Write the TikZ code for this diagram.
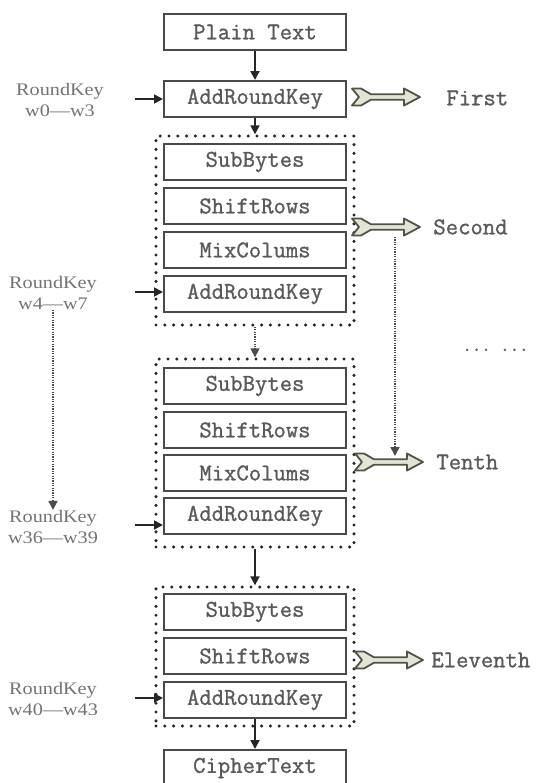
\documentclass[tikz,border=0pt]{standalone}
\usepackage{fontspec}
\setmainfont{Liberation Serif}
\newfontfamily\boxfont[FakeBold=1.2]{Latin Modern Mono}
\newfontfamily\keyfont[FakeStretch=1.15]{Liberation Serif}
\usetikzlibrary{arrows.meta}
\definecolor{txt}{HTML}{5A5A5A}
\definecolor{edge}{HTML}{4A4A4A}
\definecolor{chevfill}{HTML}{E2E5D3}
\definecolor{chevedge}{HTML}{4F5444}
\begin{document}
\begin{tikzpicture}[x=0.5pt,y=-0.5pt,
 stage/.style={draw=edge,line width=1pt,minimum width=91pt,minimum height=18pt,inner sep=0pt,text=txt,font=\boxfont\fontsize{12}{14}\selectfont},
 roundbox/.style={draw=black!85,line width=1.7pt,dash pattern=on 0pt off 4.4pt,line cap=round,minimum width=99pt,inner sep=0pt},
 keylbl/.style={text=txt!85,font=\keyfont\fontsize{8.8}{10.5}\selectfont,align=center,inner sep=0pt},
 roundlbl/.style={text=txt,font=\boxfont\fontsize{12}{14}\selectfont,anchor=west,inner sep=0pt},
 flow/.style={draw=black!85,line width=0.9pt,-{Triangle[length=4.5pt,width=4.5pt]}},
 dflow/.style={draw=black!70,line width=0.8pt,dash pattern=on 0.6pt off 0.6pt,-{Triangle[length=4.5pt,width=4.5pt]}},
 chevstyle/.style={fill=chevfill,draw=chevedge,line width=0.9pt,line join=round},
 chev/.pic={\path[chevstyle] (0,-8.5) -- (9,-8.5) -- (19,-2.7) -- (52,-2.7) -- (52,-8.5) -- (68,0) -- (52,8.5) -- (52,2.7) -- (19,2.7) -- (9,8.5) -- (0,8.5) -- (7,0) -- cycle;}
]
\useasboundingbox (0,0) rectangle (536,783);

% round groups
\node[roundbox,minimum height=94.5pt] (r1) at (255,230.5) {};
\node[roundbox,minimum height=94pt] (r2) at (255,453) {};
\node[roundbox,minimum height=69.5pt] (r3) at (255,656.5) {};

% stages
\node[stage] (plain) at (255,32) {Plain Text};
\node[stage] (ark1) at (255,99) {AddRoundKey};
\node[stage] (sb1) at (255,162) {SubBytes};
\node[stage] (sr1) at (255,206) {ShiftRows};
\node[stage] (mc1) at (255,250) {MixColums};
\node[stage] (ark2) at (255,294) {AddRoundKey};
\node[stage] (sb2) at (255,386) {SubBytes};
\node[stage] (sr2) at (255,430) {ShiftRows};
\node[stage] (mc2) at (255,473) {MixColums};
\node[stage] (ark3) at (255,516) {AddRoundKey};
\node[stage] (sb3) at (255,612) {SubBytes};
\node[stage] (sr3) at (255,656) {ShiftRows};
\node[stage] (ark4) at (255,700) {AddRoundKey};
\node[stage] (cipher) at (255,768) {CipherText};

% key labels
\node[keylbl] (k1) at (60,99.5) {RoundKey\\w0—w3};
\node[keylbl] (k2) at (53,293) {RoundKey\\w4—w7};
\node[keylbl] (k3) at (53,527) {RoundKey\\w36—w39};
\node[keylbl] (k4) at (53,699) {RoundKey\\w40—w43};

\coordinate (s1) at (135,99);
\coordinate (s2) at (135,292);
\coordinate (s3) at (135,525);
\coordinate (s4) at (135,698);
\draw[flow] (s1) -- (ark1.west |- s1);
\draw[flow] (s2) -- (ark2.west |- s2);
\draw[flow] (s3) -- (ark3.west |- s3);
\draw[flow] (s4) -- (ark4.west |- s4);
\draw[dflow] (k2.south) -- (k3.north);

% main flow
\draw[flow] (plain) -- (ark1);
\draw[flow] (ark1.south) -- (r1.north);
\draw[dflow] (r1.south) -- (r2.north);
\draw[flow] (r2.south) -- (r3.north);
\draw[flow] (ark4.south) -- (cipher.north);

% round markers
\pic at (352,97) {chev};
\pic at (352,227) {chev};
\pic at (355,462) {chev};
\pic at (355,660) {chev};
\node[roundlbl] (first) at (446,98) {First};
\node[roundlbl] (second) at (433,227) {Second};
\node[roundlbl] (tenth) at (436,462) {Tenth};
\node[roundlbl] (eleventh) at (431,660) {Eleventh};
\node[roundlbl,font=\boxfont\fontsize{9}{11}\selectfont] (dots) at (462,352) {··· ···};

\coordinate (d1) at (395,237);
\coordinate (d2) at (395,456);
\draw[dflow] (d1) -- (d2);
\end{tikzpicture}
\end{document}
